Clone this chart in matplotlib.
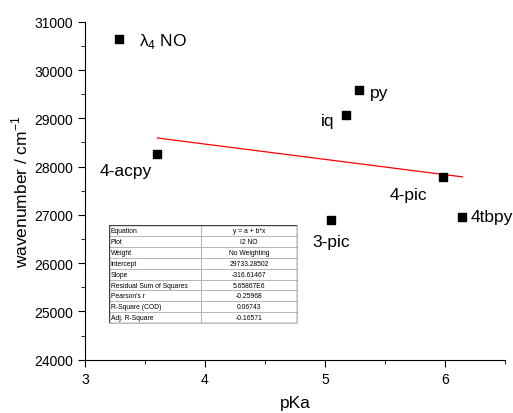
import matplotlib
matplotlib.use("Agg")
import matplotlib.pyplot as plt
import numpy as np

plt.rcParams['font.family'] = ['Liberation Sans', 'DejaVu Sans']
plt.rcParams['mathtext.fontset'] = 'custom'
plt.rcParams['mathtext.rm'] = 'Liberation Sans'

names = ["λ$_\\mathregular{4}$ NO", "4-acpy", "iq", "py", "4-pic", "3-pic", "4tbpy"]
pka = [3.284, 3.604, 5.175, 5.286, 5.985, 5.055, 6.147]
wavenumber = [30650, 28255, 29075, 29592, 27785, 26888, 26963]

intercept = 29733.28502
slope = -316.61467

table_labels = ["Equation", "Plot", "Weight", "Intercept", "Slope",
                "Residual Sum of Squares", "Pearson's r", "R-Square (COD)", "Adj. R-Square"]
table_values = ["y = a + b*x", "I2 NO", "No Weighting", "29733.28502", "-316.61467",
                "5.65867E6", "-0.25968", "0.06743", "-0.16571"]

fig = plt.figure(figsize=(5.13, 4.14), dpi=100)
ax = fig.add_axes([0.1657, 0.1287, 0.8183, 0.8163])

ax.scatter(pka, wavenumber, marker='s', s=36, color='black', zorder=3)

# label offsets in points (dx, dy, ha, va)
offsets = [(14, -1, 'left', 'center'),
           (-4, -6, 'right', 'top'),
           (-8, -4, 'right', 'center'),
           (8, -2, 'left', 'center'),
           (-11, -7, 'right', 'top'),
           (0, -10, 'center', 'top'),
           (6, 0, 'left', 'center')]
for n, x, y, (dx, dy, ha, va) in zip(names, pka, wavenumber, offsets):
    ax.annotate(n, (x, y), xytext=(dx, dy), textcoords='offset points',
                ha=ha, va=va, fontsize=12.5)

xf = np.linspace(min(pka[1:]), max(pka), 50)
ax.plot(xf, intercept + slope * xf, color='red', lw=0.9, zorder=2)

ax.set_xlim(3, 6.5)
ax.set_ylim(24000, 31000)
ax.set_xticks([3, 4, 5, 6])
ax.set_xticks([3.5, 4.5, 5.5, 6.5], minor=True)
ax.set_yticks(np.arange(24000, 31001, 1000))
ax.set_yticks(np.arange(24500, 31000, 1000), minor=True)
ax.spines['top'].set_visible(False)
ax.spines['right'].set_visible(False)
ax.tick_params(which='major', direction='out', length=5, labelsize=10)
ax.tick_params(which='minor', direction='out', length=3)
ax.set_xlabel("pKa", fontsize=12.5, labelpad=7)
ax.set_ylabel("wavenumber / cm$^\\mathregular{-1}$", fontsize=12.5, labelpad=3)

# fit table
tbl_ax = fig.add_axes([109/513, 1 - 324/414, (297-109)/513, (324-226.3)/414])
tbl_ax.axis('off')
cells = [[a, b] for a, b in zip(table_labels, table_values)]
tbl = tbl_ax.table(cellText=cells, loc='center', bbox=[0, 0, 1, 1],
                   colWidths=[0.49, 0.51])
tbl.auto_set_font_size(False)
tbl.set_fontsize(4.9)
for (r, c), cell in tbl.get_celld().items():
    cell.set_edgecolor('#b0b0b0')
    cell.set_linewidth(0.6)
    cell.get_text().set_ha('left' if c == 0 else 'center')
    if c == 0:
        cell.PAD = 0.02
tbl_ax.add_patch(plt.Rectangle((0, 0), 1, 1, transform=tbl_ax.transAxes,
                               fill=False, edgecolor='#404040', lw=1.0, zorder=5))

fig.savefig("out.png", dpi=100)
